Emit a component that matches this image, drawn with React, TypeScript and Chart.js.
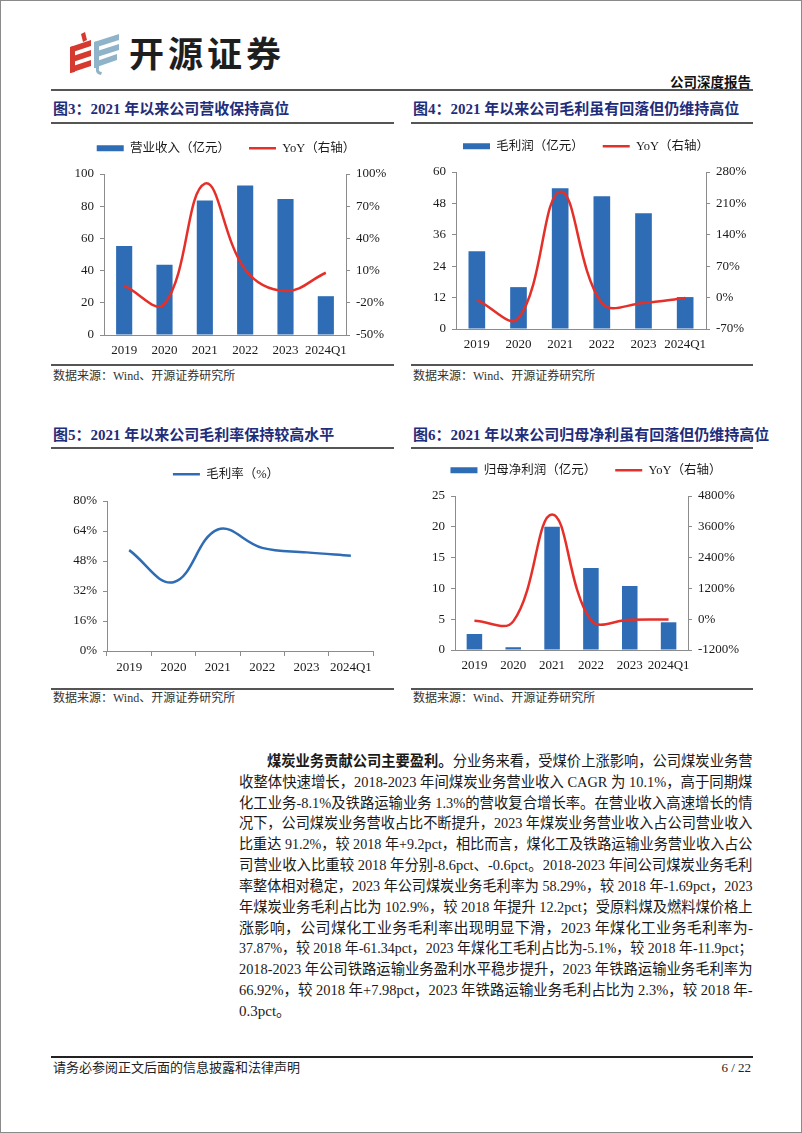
import React, { useEffect, useLayoutEffect, useRef, useState } from 'react';
import { Chart, registerables } from 'chart.js';

Chart.register(...registerables);

// ---------- data ----------
const categories = ['2019', '2020', '2021', '2022', '2023', '2024Q1'];

const revenue = [55.3, 43.7, 83.5, 92.8, 84.5, 24.1];
const revenueYoY = [-4, -21, 91, 11, -9, 8];
const revenueAxis = [0, 100, 20];
const revenueYoYAxis = [-50, 100, 30];

const grossProfit = [29.7, 16.0, 53.8, 50.7, 44.2, 12.2];
const grossProfitYoY = [-5, -46, 236, -12, -12, -1];
const grossProfitAxis = [0, 60, 12];
const grossProfitYoYAxis = [-70, 280, 70];

const grossMargin = [53.8, 36.7, 64.8, 55.0, 52.6, 50.8];
const grossMarginAxis = [0, 80, 16];

const netProfit = [2.6, 0.45, 20.0, 13.3, 10.4, 4.5];
const netProfitYoY = [-60, -85, 4080, -35, -22, -8];
const netProfitAxis = [0, 25, 5];
const netProfitYoYAxis = [-1200, 4800, 1200];

// ---------- style ----------
const BLUE = '#2E6CB5';
const RED = '#E5302A';
const AXIS = '#8C8C8C';
const TXT = '#1a1a1a';
const NAVY = '#1F2D7B';
const SERIF = "'Liberation Serif', 'Times New Roman', 'Noto Sans CJK SC', serif";

const legendLabels = (chart: any) => {
  const items = (Chart.defaults as any).plugins.legend.labels.generateLabels(chart);
  return items
    .sort((a: any, b: any) => a.datasetIndex - b.datasetIndex)
    .map((it: any) => {
      const ds: any = chart.data.datasets[it.datasetIndex];
      const isLine = ds.type === 'line' || (!ds.type && chart.config.type === 'line');
      if (isLine) {
        return { ...it, pointStyle: 'line', strokeStyle: ds.borderColor, fillStyle: ds.borderColor, lineWidth: 2.5 };
      }
      return { ...it, pointStyle: 'rect', fillStyle: ds.backgroundColor, strokeStyle: ds.backgroundColor, lineWidth: 0 };
    });
};

const legendHeight = (h: number) => ({
  id: 'legendHeight',
  beforeInit(chart: any) {
    if (chart.legend) {
      const fit = chart.legend.fit;
      chart.legend.fit = function () {
        fit.call(this);
        this.height = h;
      };
    }
  },
});

const legendOpts = {
  display: true,
  position: 'top',
  labels: {
    usePointStyle: true,
    pointStyleWidth: 27,
    boxHeight: 6,
    padding: 19,
    color: TXT,
    font: { family: SERIF, size: 12.5 },
    generateLabels: legendLabels,
  },
};

const tickFont = { family: SERIF, size: 13 };

function yScale(axis: number[], pos: 'left' | 'right', w: number, pct: boolean) {
  return {
    type: 'linear',
    position: pos,
    min: axis[0],
    max: axis[1],
    grid: { display: true, drawOnChartArea: false, drawTicks: true, tickLength: 4, color: AXIS },
    border: { display: true, color: AXIS, width: 1 },
    ticks: {
      stepSize: axis[2],
      padding: 6,
      color: TXT,
      font: tickFont,
      callback: (v: any) => (pct ? v + '%' : String(v)),
    },
    afterFit: (s: any) => {
      s.width = w;
    },
  };
}

function comboConfig(p: {
  barLabel: string;
  bars: number[];
  yoy: number[];
  yAxis: number[];
  y2Axis: number[];
  leftW: number;
  rightW: number;
  xH: number;
  legendH: number;
}) {
  return {
    type: 'bar',
    data: {
      labels: categories,
      datasets: [
        {
          type: 'bar',
          label: p.barLabel,
          data: p.bars,
          yAxisID: 'y',
          backgroundColor: BLUE,
          borderWidth: 0,
          barPercentage: 0.4,
          categoryPercentage: 1,
          order: 1,
        },
        {
          type: 'line',
          label: 'YoY（右轴）',
          data: p.yoy,
          yAxisID: 'y2',
          borderColor: RED,
          backgroundColor: RED,
          borderWidth: 2.5,
          pointRadius: 0,
          pointHoverRadius: 0,
          pointBorderWidth: 2.5,
          tension: 0.4,
          fill: false,
          order: 0,
        },
      ],
    },
    options: {
      responsive: false,
      animation: false,
      devicePixelRatio: 1,
      events: [],
      layout: { padding: 0 },
      plugins: { legend: legendOpts, tooltip: { enabled: false } },
      scales: {
        x: {
          offset: true,
          grid: { display: false, drawTicks: false },
          border: { display: true, color: AXIS, width: 1 },
          ticks: { color: TXT, font: tickFont, padding: 8, maxRotation: 0, autoSkip: false },
          afterFit: (s: any) => {
            s.height = p.xH;
          },
        },
        y: yScale(p.yAxis, 'left', p.leftW, false),
        y2: yScale(p.y2Axis, 'right', p.rightW, true),
      },
    },
    plugins: [legendHeight(p.legendH)],
  };
}

function marginConfig() {
  return {
    type: 'line',
    data: {
      labels: categories,
      datasets: [
        {
          label: '毛利率（%）',
          data: grossMargin,
          borderColor: BLUE,
          backgroundColor: BLUE,
          borderWidth: 2.5,
          pointRadius: 0,
          pointHoverRadius: 0,
          pointBorderWidth: 2.5,
          tension: 0.4,
          fill: false,
        },
      ],
    },
    options: {
      responsive: false,
      animation: false,
      devicePixelRatio: 1,
      events: [],
      layout: { padding: 0 },
      plugins: { legend: legendOpts, tooltip: { enabled: false } },
      scales: {
        x: {
          offset: true,
          grid: { display: true, drawOnChartArea: false, drawTicks: true, tickLength: 5, offset: true, color: AXIS },
          border: { display: true, color: AXIS, width: 1 },
          ticks: { color: TXT, font: tickFont, padding: 4, maxRotation: 0, autoSkip: false },
          afterFit: (s: any) => {
            s.height = 26;
          },
        },
        y: yScale(grossMarginAxis, 'left', 56, true),
        spacer: {
          type: 'linear',
          position: 'right',
          display: true,
          grid: { display: false, drawTicks: false },
          border: { display: false },
          ticks: { display: false },
          afterFit: (s: any) => {
            s.width = 28;
          },
        },
      },
    },
    plugins: [legendHeight(52)],
  };
}

function ChartBox(props: { left: number; top: number; width: number; height: number; make: () => any }) {
  const ref = useRef<HTMLCanvasElement>(null);
  useEffect(() => {
    const chart = new Chart(ref.current as HTMLCanvasElement, props.make());
    return () => chart.destroy();
  }, []);
  return (
    <div style={{ position: 'absolute', left: props.left, top: props.top, width: props.width, height: props.height }}>
      <canvas ref={ref} width={props.width} height={props.height} style={{ width: props.width, height: props.height, display: 'block' }} />
    </div>
  );
}

function HLine(p: { x1: number; x2: number; y: number; w: number; c?: string }) {
  return (
    <div
      style={{
        position: 'absolute',
        left: p.x1,
        top: p.y - p.w / 2,
        width: p.x2 - p.x1,
        height: p.w,
        background: p.c || '#555',
      }}
    />
  );
}

function Title(p: { left: number; top: number; text: string }) {
  return (
    <div
      style={{
        position: 'absolute',
        left: p.left,
        top: p.top,
        fontSize: 15,
        lineHeight: '20px',
        fontWeight: 700,
        color: NAVY,
        whiteSpace: 'nowrap',
        fontFamily: SERIF,
      }}
    >
      {p.text}
    </div>
  );
}

function Source(p: { left: number; top: number }) {
  return (
    <div
      style={{
        position: 'absolute',
        left: p.left,
        top: p.top,
        fontSize: 12,
        lineHeight: '16px',
        color: '#333',
        whiteSpace: 'nowrap',
        fontFamily: SERIF,
      }}
    >
      数据来源：Wind、开源证券研究所
    </div>
  );
}

const TEXT_L = 238;
const TEXT_W = 514;

function TextLine(p: { top: number; indent?: number; last?: boolean; children: any }) {
  const indent = p.indent || 0;
  const avail = TEXT_W - indent;
  const ref = useRef<HTMLSpanElement>(null);
  const [scale, setScale] = useState<number | null>(null);
  useLayoutEffect(() => {
    const w = (ref.current as HTMLSpanElement).getBoundingClientRect().width;
    setScale(w > avail - 0.5 ? (avail - 0.5) / w : 1);
  }, []);
  const base: any = {
    position: 'absolute',
    left: TEXT_L + indent,
    top: p.top,
    width: avail,
    height: 21,
    lineHeight: '21px',
    fontSize: 15,
    color: '#1a1a1a',
    fontFamily: SERIF,
  };
  if (scale === null || scale < 1 || p.last) {
    return (
      <div style={{ ...base, whiteSpace: 'nowrap' }}>
        <span
          ref={ref}
          style={{
            display: 'inline-block',
            transform: scale !== null && scale < 1 ? `scaleX(${scale})` : undefined,
            transformOrigin: 'left center',
          }}
        >
          {p.children}
        </span>
      </div>
    );
  }
  return <div style={{ ...base, textAlign: 'justify', textAlignLast: 'justify' }}>{p.children}</div>;
}

const bodyLines = [
  '收整体快速增长，2018-2023 年间煤炭业务营业收入 CAGR 为 10.1%，高于同期煤',
  '化工业务-8.1%及铁路运输业务 1.3%的营收复合增长率。在营业收入高速增长的情',
  '况下，公司煤炭业务营收占比不断提升，2023 年煤炭业务营业收入占公司营业收入',
  '比重达 91.2%，较 2018 年+9.2pct，相比而言，煤化工及铁路运输业务营业收入占公',
  '司营业收入比重较 2018 年分别-8.6pct、-0.6pct。2018-2023 年间公司煤炭业务毛利',
  '率整体相对稳定，2023 年公司煤炭业务毛利率为 58.29%，较 2018 年-1.69pct，2023',
  '年煤炭业务毛利占比为 102.9%，较 2018 年提升 12.2pct；受原料煤及燃料煤价格上',
  '涨影响，公司煤化工业务毛利率出现明显下滑，2023 年煤化工业务毛利率为-',
  '37.87%，较 2018 年-61.34pct，2023 年煤化工毛利占比为-5.1%，较 2018 年-11.9pct；',
  '2018-2023 年公司铁路运输业务盈利水平稳步提升，2023 年铁路运输业务毛利率为',
  '66.92%，较 2018 年+7.98pct，2023 年铁路运输业务毛利占比为 2.3%，较 2018 年-',
  '0.3pct。',
];

function Logo() {
  const red = '#D63A2F';
  const blue = '#8FB4C9';
  return (
    <>
      <svg style={{ position: 'absolute', left: 66, top: 31 }} width={54} height={44} viewBox="0 0 54 44">
        <polygon points="14,2 18,0 20,8 16,10" fill={red} />
        <polygon points="3,15 24,8 24,14 3,21" fill={red} />
        <polygon points="3,25 24,18 24,24 3,31" fill={red} />
        <polygon points="3,35 24,28 24,34 3,41" fill={red} />
        <polygon points="3,15 8,14 8,40 3,41" fill={red} />
        <polygon points="27,10 52,2 52,8 27,16" fill={blue} />
        <polygon points="27,20 52,12 52,18 27,26" fill={blue} />
        <polygon points="27,30 50,22 50,28 27,36" fill={blue} />
        <polygon points="27,10 32,9 32,36 27,36" fill={blue} />
        <path d="M29,36 Q28,42 34,43 L35,40 Q31,40 32,36 Z" fill={blue} />
      </svg>
      <div
        style={{
          position: 'absolute',
          left: 128,
          top: 28,
          fontFamily: "'Noto Sans CJK SC', sans-serif",
          fontWeight: 700,
          fontSize: 35,
          letterSpacing: 4,
          lineHeight: '46px',
          color: '#1e1e1e',
          whiteSpace: 'nowrap',
        }}
      >
        开源证券
      </div>
    </>
  );
}

export default function App() {
  const lineTop0 = 750;
  const step = 20.83;
  return (
    <div
      style={{
        position: 'absolute',
        left: 0,
        top: 0,
        width: 802,
        height: 1133,
        background: '#fff',
        border: '1px solid #8a8a8a',
        boxSizing: 'border-box',
        overflow: 'hidden',
        fontFamily: SERIF,
        color: '#222',
      }}
    >
      <Logo />
      <div
        style={{
          position: 'absolute',
          left: 600,
          width: 150,
          textAlign: 'right',
          top: 73,
          fontSize: 13.5,
          lineHeight: '18px',
          fontWeight: 700,
          color: '#111',
        }}
      >
        公司深度报告
      </div>
      <HLine x1={50} x2={752} y={89} w={2} />

      <Title left={52} top={98} text="图3：2021 年以来公司营收保持高位" />
      <Title left={412} top={98} text="图4：2021 年以来公司毛利虽有回落但仍维持高位" />
      <HLine x1={50} x2={393} y={121.5} w={2} />
      <HLine x1={410} x2={752} y={121.5} w={2} />

      <ChartBox
        left={50}
        top={122}
        width={350}
        height={238}
        make={() =>
          comboConfig({
            barLabel: '营业收入（亿元）',
            bars: revenue,
            yoy: revenueYoY,
            yAxis: revenueAxis,
            y2Axis: revenueYoYAxis,
            leftW: 53,
            rightW: 55,
            xH: 26,
            legendH: 51,
          })
        }
      />
      <ChartBox
        left={410}
        top={120}
        width={350}
        height={234}
        make={() =>
          comboConfig({
            barLabel: '毛利润（亿元）',
            bars: grossProfit,
            yoy: grossProfitYoY,
            yAxis: grossProfitAxis,
            y2Axis: grossProfitYoYAxis,
            leftW: 45,
            rightW: 55,
            xH: 26,
            legendH: 51,
          })
        }
      />
      <HLine x1={50} x2={393} y={364} w={1.5} />
      <HLine x1={410} x2={752} y={364} w={1.5} />
      <Source left={52} top={367} />
      <Source left={412} top={367} />

      <Title left={52} top={424} text="图5：2021 年以来公司毛利率保持较高水平" />
      <Title left={412} top={424} text="图6：2021 年以来公司归母净利虽有回落但仍维持高位" />
      <HLine x1={50} x2={393} y={447} w={2} />
      <HLine x1={410} x2={752} y={447} w={2} />

      <ChartBox left={50} top={448} width={350} height={228} make={marginConfig} />
      <ChartBox
        left={410}
        top={444}
        width={350}
        height={231}
        make={() =>
          comboConfig({
            barLabel: '归母净利润（亿元）',
            bars: netProfit,
            yoy: netProfitYoY,
            yAxis: netProfitAxis,
            y2Axis: netProfitYoYAxis,
            leftW: 44,
            rightW: 73,
            xH: 26,
            legendH: 51,
          })
        }
      />
      <HLine x1={50} x2={393} y={688} w={1.5} />
      <HLine x1={410} x2={752} y={688} w={1.5} />
      <Source left={52} top={689} />
      <Source left={412} top={689} />

      <TextLine top={lineTop0} indent={28}>
        <b>煤炭业务贡献公司主要盈利。</b>分业务来看，受煤价上涨影响，公司煤炭业务营
      </TextLine>
      {bodyLines.map((t, i) => (
        <TextLine key={i} top={lineTop0 + step * (i + 1)} last={i === bodyLines.length - 1}>
          {t}
        </TextLine>
      ))}

      <HLine x1={50} x2={752} y={1056} w={1.5} c="#222" />
      <div style={{ position: 'absolute', left: 52, top: 1058, fontSize: 13, lineHeight: '17px', color: '#222' }}>
        请务必参阅正文后面的信息披露和法律声明
      </div>
      <div
        style={{
          position: 'absolute',
          left: 650,
          width: 100,
          textAlign: 'right',
          top: 1058,
          fontSize: 13,
          lineHeight: '17px',
          color: '#222',
        }}
      >
        6 / 22
      </div>
    </div>
  );
}
